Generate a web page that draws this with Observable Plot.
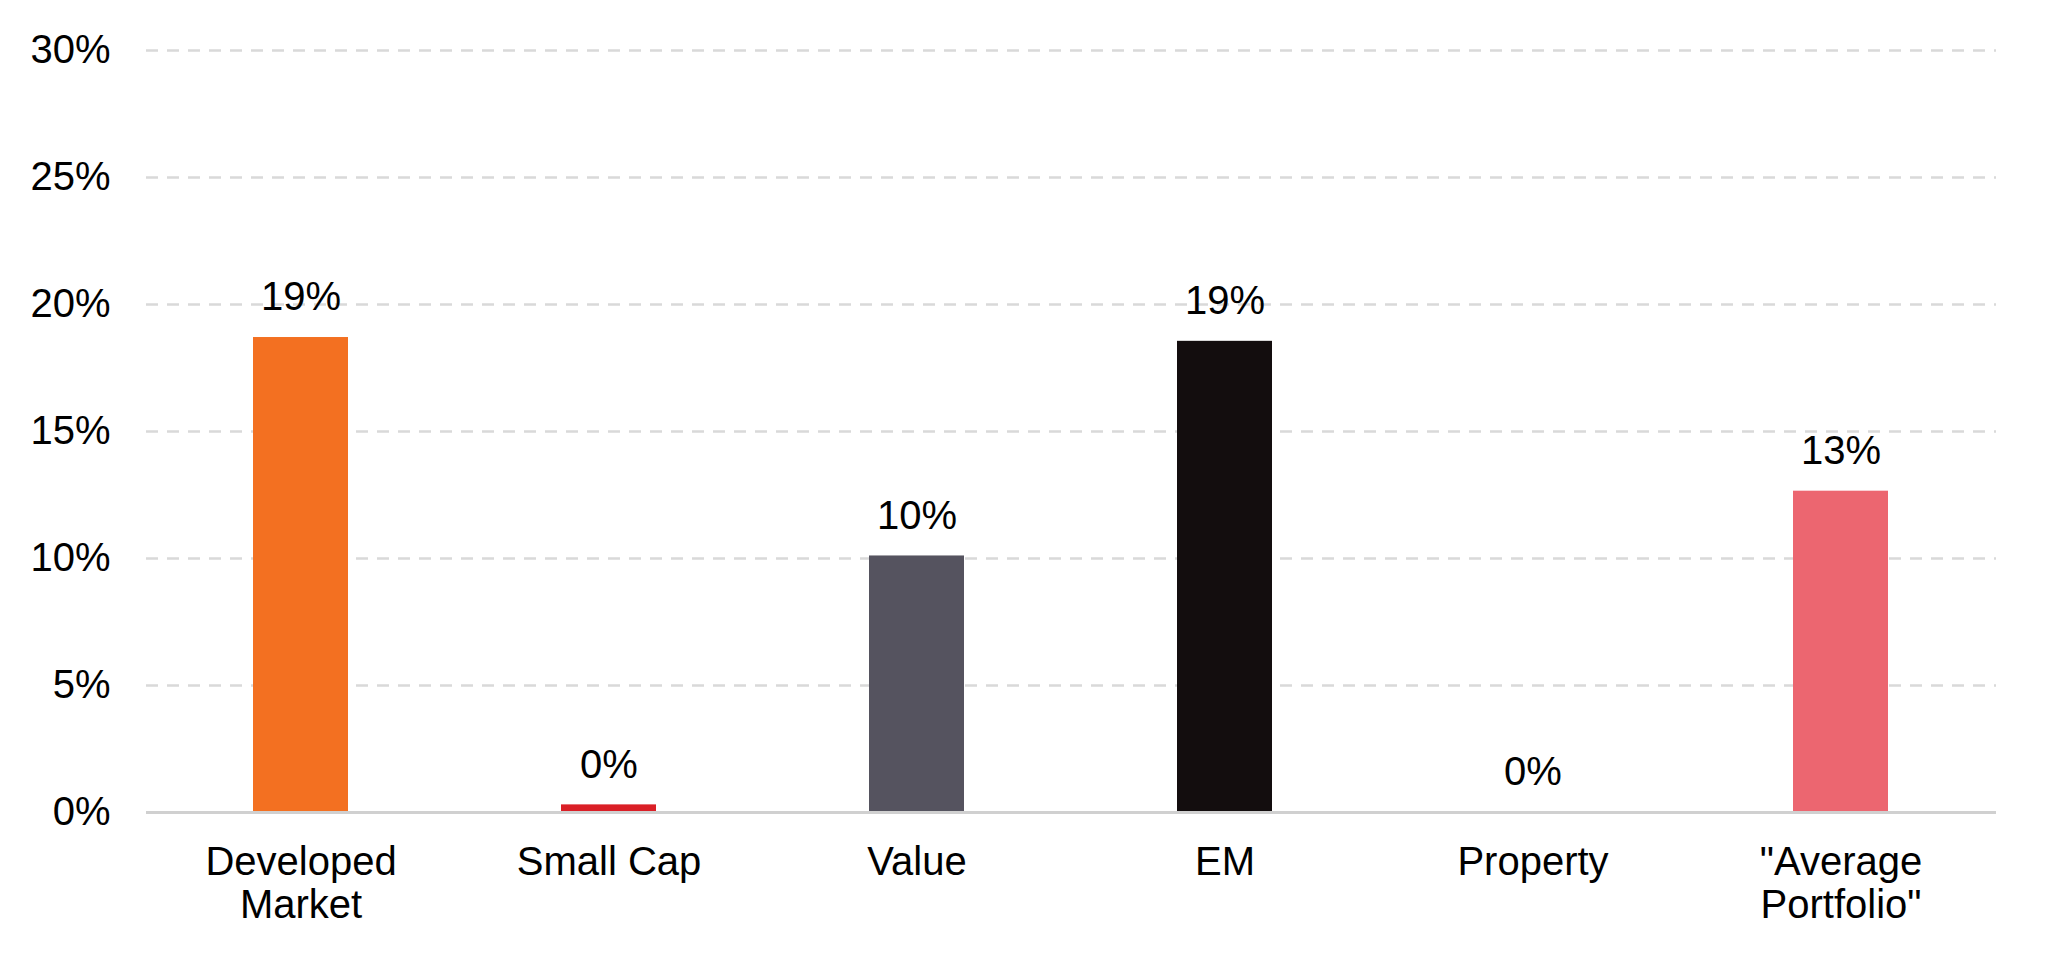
<!DOCTYPE html>
<html>
<head>
<meta charset="utf-8">
<script src="https://cdn.jsdelivr.net/npm/d3@7"></script>
<script src="https://cdn.jsdelivr.net/npm/@observablehq/plot@0.6"></script>
<style>
  html, body { margin: 0; padding: 0; background: #ffffff; }
  #chart svg { display: block; }
</style>
</head>
<body>
<div id="chart"></div>
<script>
const categories = ["Developed\nMarket", "Small Cap", "Value", "EM", "Property", "\"Average\nPortfolio\""];
const values = [18.7, 0.3, 10.1, 18.55, 0, 12.65];
const barColors = ["#F37021", "#DA1F26", "#55535F", "#130D0E", "#F37021", "#EC6670"];
const yTicks = [0, 5, 10, 15, 20, 25, 30];

const data = categories.map((c, i) => ({cat: c, value: values[i], color: barColors[i]}));
const font = "'Liberation Sans', Arial, Helvetica, sans-serif";

const chart = Plot.plot({
  width: 2048,
  height: 960,
  marginTop: 50,
  marginBottom: 148,
  marginLeft: 146,
  marginRight: 52,
  style: {fontFamily: font, fontSize: "40px", color: "#000", background: "#ffffff"},
  x: {domain: categories, paddingInner: 0.69, paddingOuter: 0.345, label: null},
  y: {domain: [0, 30], label: null},
  color: {type: "identity"},
  marks: [
    Plot.ruleY(yTicks.filter(d => d > 0), {stroke: "#d9d9d9", strokeWidth: 2.5, strokeDasharray: "12,9"}),
    Plot.barY(data, {x: "cat", y: "value", fill: "color"}),
    Plot.ruleY([0], {stroke: "#d0d0d0", strokeWidth: 3}),
    Plot.text(data, {x: "cat", y: "value", text: d => Math.round(d.value) + "%", dy: -40, lineAnchor: "middle", fontSize: 40, fill: "#000"}),
    Plot.axisY({ticks: yTicks, tickFormat: d => d + "%", tickSize: 0, tickPadding: 36, fontSize: 40, label: null}),
    Plot.axisX({tickSize: 0, tickPadding: 32, fontSize: 40, lineHeight: 1.08, label: null})
  ]
});
document.getElementById("chart").appendChild(chart);
</script>
</body>
</html>
